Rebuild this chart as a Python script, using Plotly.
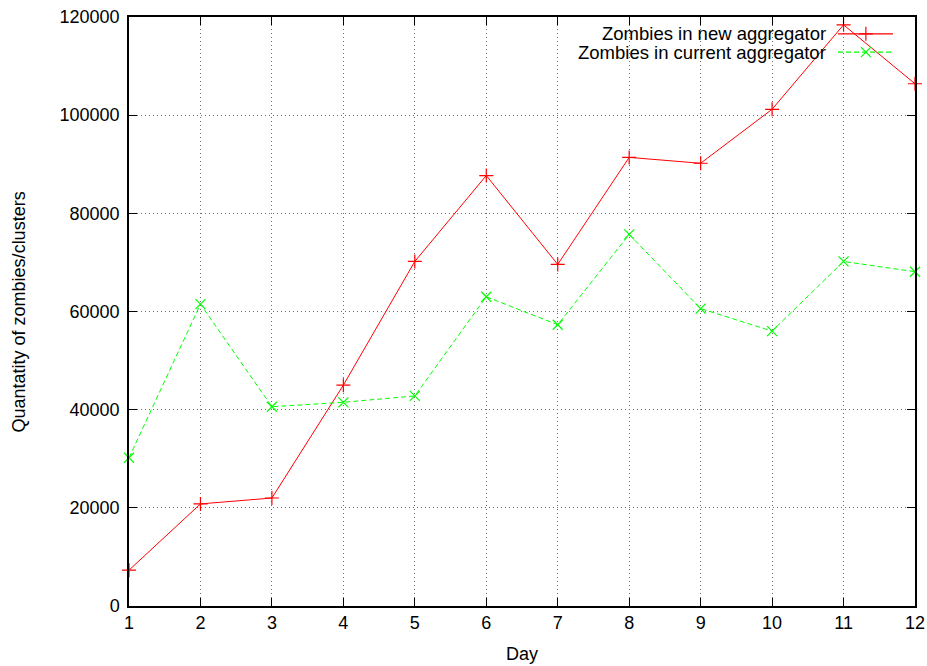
import plotly.graph_objects as go

days = list(range(1, 13))
new_aggregator = [7300, 20800, 22000, 45000, 70200, 87700, 69600, 91400, 90200, 101200, 118400, 106400]
current_aggregator = [30200, 61500, 40600, 41500, 42800, 63000, 57300, 75700, 60600, 56000, 70200, 68100]
series_names = ["Zombies in new aggregator", "Zombies in current aggregator"]
y_ticks = [0, 20000, 40000, 60000, 80000, 100000, 120000]

RED = "#ff0000"
GREEN = "#00ff00"
FONT = "Liberation Sans, Arial, Helvetica, sans-serif"
FS = 18

fig = go.Figure()

fig.add_trace(go.Scatter(
    x=days, y=new_aggregator, mode="lines+markers", name=series_names[0],
    line=dict(color=RED, width=1),
    marker=dict(symbol="cross-thin", size=10, line=dict(color=RED, width=1.2)),
    showlegend=False, cliponaxis=False,
))
fig.add_trace(go.Scatter(
    x=days, y=current_aggregator, mode="lines+markers", name=series_names[1],
    line=dict(color=GREEN, width=1, dash="5px,3px"),
    marker=dict(symbol="x-thin", size=10, line=dict(color=GREEN, width=1.2)),
    showlegend=False, cliponaxis=False,
))

# gnuplot-style key: text on the left, line sample with marker on the right
key_rows = [0.9715, 0.9405]
key_styles = [
    (RED, None, "cross-thin"),
    (GREEN, "5px,3px", "x-thin"),
]
for name, ky, (col, dash, sym) in zip(series_names, key_rows, key_styles):
    fig.add_annotation(
        x=0.889, y=ky, xref="paper", yref="paper", text=name, showarrow=False,
        xanchor="right", yanchor="middle", font=dict(size=18.5, color="black", family=FONT),
    )
    line_style = dict(color=col, width=1.2)
    if dash:
        line_style["dash"] = dash
    fig.add_trace(go.Scatter(
        x=[0.902, 0.972], y=[ky, ky], xaxis="x2", yaxis="y2", mode="lines",
        line=line_style, showlegend=False, hoverinfo="skip", cliponaxis=False,
    ))
    fig.add_trace(go.Scatter(
        x=[0.9375], y=[ky], xaxis="x2", yaxis="y2", mode="markers",
        marker=dict(symbol=sym, size=10, line=dict(color=col, width=1.2)),
        showlegend=False, hoverinfo="skip", cliponaxis=False,
    ))

# axis titles
fig.add_annotation(
    x=0.5, y=-0.0815, xref="paper", yref="paper", text="Day", showarrow=False,
    xanchor="center", yanchor="middle", font=dict(size=FS, color="black", family=FONT),
)
fig.add_annotation(
    x=-0.14, y=0.5, xref="paper", yref="paper", text="Quantatity of zombies/clusters",
    showarrow=False, textangle=-90, xanchor="center", yanchor="middle",
    font=dict(size=FS, color="black", family=FONT),
)

axis_common = dict(
    showline=True, linecolor="black", linewidth=1.5, mirror="ticks",
    ticks="inside", ticklen=8, tickwidth=1, tickcolor="black",
    showgrid=True, gridcolor="#707070", griddash="1px,3px", gridwidth=1,
    zeroline=False, tickfont=dict(size=FS, color="black", family=FONT),
    automargin=False,
)

fig.update_layout(
    width=927, height=666,
    margin=dict(l=129, r=12, t=17, b=60),
    paper_bgcolor="white", plot_bgcolor="white",
    font=dict(family=FONT, color="black", size=FS),
    xaxis=dict(
        range=[1, 12], tickmode="array", tickvals=days,
        **axis_common,
    ),
    yaxis=dict(
        range=[0, 120000], tickmode="array", tickvals=y_ticks,
        ticktext=[str(v) for v in y_ticks], ticklabelstandoff=4,
        **axis_common,
    ),
    xaxis2=dict(range=[0, 1], overlaying="x", visible=False, fixedrange=True),
    yaxis2=dict(range=[0, 1], overlaying="y", visible=False, fixedrange=True),
    showlegend=False,
)

fig.write_html("out.html")
